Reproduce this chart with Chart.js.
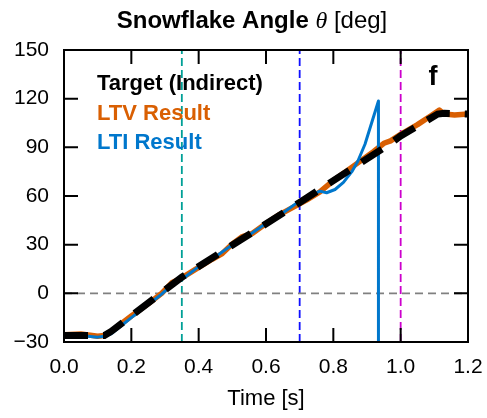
<!DOCTYPE html>
<html>
<head>
<meta charset="utf-8">
<script src="https://cdn.jsdelivr.net/npm/chart.js@4"></script>
<style>
  html, body { margin: 0; padding: 0; background: #fff; }
  canvas { display: block; }
</style>
</head>
<body>
<canvas id="graficoAngulo" width="487" height="418"></canvas>
<script>
// time axis [s] and snowflake angle [deg] for each series
const targetTime = [0, 0.12, 0.14, 0.35, 0.7, 0.96, 1.0, 1.11, 1.13, 1.2];
const targetAngle = [-26, -26, -23.5, 10, 56, 91, 97, 110.5, 111, 110.5];

const ltvTime = [0, 0.05, 0.10, 0.12, 0.15, 0.20, 0.25, 0.29, 0.32, 0.35, 0.40, 0.44, 0.47, 0.50, 0.53, 0.56,
  0.60, 0.64, 0.68, 0.72, 0.76, 0.80, 0.84, 0.88, 0.92, 0.95, 0.97, 1.00, 1.05, 1.09, 1.115, 1.13, 1.16, 1.2];
const ltvAngle = [-25.5, -25, -26.5, -26, -22, -14, -6.5, 0, 6.5, 9.5, 16, 21, 24.5, 30.5, 35, 37,
  43, 48.5, 53, 57.5, 62.5, 69.5, 75.5, 81.5, 87.5, 92.5, 94, 98, 104, 109.5, 113, 110.5, 110, 110.5];

const ltiTime = [0, 0.05, 0.10, 0.12, 0.14, 0.17, 0.20, 0.25, 0.29, 0.32, 0.35, 0.40, 0.45, 0.49, 0.52, 0.55,
  0.60, 0.65, 0.70, 0.73, 0.76, 0.78, 0.805, 0.83, 0.855, 0.873, 0.894, 0.934, 0.934];
const ltiAngle = [-26.5, -26, -27, -26.5, -25, -20, -15, -7, -0.5, 5, 8.5, 16.5, 22.5, 28.5, 32, 36,
  43, 49.5, 57, 60, 63, 62, 64, 68.4, 75, 81.6, 91.9, 118.6, -60];

// phase boundaries (dashed verticals)
const markerTimes = [0.35, 0.7, 1.0];
const markerColors = ['#00a096', '#1010ff', '#cc00cc'];

const xTicks = [0, 0.2, 0.4, 0.6, 0.8, 1.0, 1.2];
const yTicks = [-30, 0, 30, 60, 90, 120, 150];

const seriesNames = ['Target (Indirect)', 'LTV Result', 'LTI Result'];
const seriesColors = ['#000000', '#d95f02', '#0077cc'];

const SANS = '"Liberation Sans", Arial, Helvetica, sans-serif';

function toPoints(ts, ys) {
  return ts.map((t, i) => ({ x: t, y: ys[i] }));
}

const datasets = [
  {
    label: seriesNames[0],
    data: toPoints(targetTime, targetAngle),
    borderColor: seriesColors[0],
    borderWidth: 7,
    borderDash: [24, 15],
    borderCapStyle: 'butt',
    order: 0
  },
  {
    label: seriesNames[2],
    data: toPoints(ltiTime, ltiAngle),
    borderColor: seriesColors[2],
    borderWidth: 3,
    borderJoinStyle: 'round',
    order: 1
  },
  {
    label: seriesNames[1],
    data: toPoints(ltvTime, ltvAngle),
    borderColor: seriesColors[1],
    borderWidth: 5.5,
    borderJoinStyle: 'round',
    borderCapStyle: 'round',
    order: 2
  },
  {
    label: 'zero',
    data: toPoints([xTicks[0], xTicks[xTicks.length - 1]], [0, 0]),
    borderColor: '#808080',
    borderWidth: 1.8,
    borderDash: [8, 5],
    order: 3
  }
];

markerTimes.forEach((t, i) => {
  datasets.push({
    label: 'marker' + i,
    data: toPoints([t, t], [yTicks[0], yTicks[yTicks.length - 1]]),
    borderColor: markerColors[i],
    borderWidth: 1.8,
    borderDash: [8, 4],
    order: 3
  });
});

// frame with inward ticks on all four sides, plus title/legend/axis text
const decorPlugin = {
  id: 'decor',
  afterDatasetsDraw(chart) {
    const { ctx, chartArea: a, scales } = chart;
    ctx.save();
    ctx.strokeStyle = '#000';
    ctx.lineWidth = 2;
    ctx.strokeRect(a.left, a.top, a.right - a.left, a.bottom - a.top);
    const len = 14;
    ctx.beginPath();
    xTicks.forEach(v => {
      const px = scales.x.getPixelForValue(v);
      ctx.moveTo(px, a.bottom); ctx.lineTo(px, a.bottom - len);
      ctx.moveTo(px, a.top); ctx.lineTo(px, a.top + len);
    });
    yTicks.forEach(v => {
      const py = scales.y.getPixelForValue(v);
      ctx.moveTo(a.left, py); ctx.lineTo(a.left + len, py);
      ctx.moveTo(a.right, py); ctx.lineTo(a.right - len, py);
    });
    ctx.stroke();
    ctx.restore();
  },
  afterDraw(chart) {
    const { ctx, chartArea: a } = chart;
    ctx.save();
    ctx.fillStyle = '#000';
    ctx.textBaseline = 'alphabetic';

    // title with italic theta
    const parts = [
      { text: 'Snowflake Angle ', font: 'bold 24px ' + SANS },
      { text: '\u03b8', font: 'italic 24px "Liberation Serif", "DejaVu Serif", serif' },
      { text: ' [deg]', font: '24px ' + SANS }
    ];
    let total = 0;
    parts.forEach(p => { ctx.font = p.font; p.w = ctx.measureText(p.text).width; total += p.w; });
    let x = 252 - total / 2;
    ctx.textAlign = 'left';
    parts.forEach(p => { ctx.font = p.font; ctx.fillText(p.text, x, 28); x += p.w; });

    // legend as coloured text
    ctx.font = 'bold 22px ' + SANS;
    seriesNames.forEach((name, i) => {
      ctx.fillStyle = seriesColors[i];
      ctx.fillText(name, 97, 90 + i * 29.5);
    });

    // panel letter
    ctx.fillStyle = '#000';
    ctx.font = 'bold 27px ' + SANS;
    ctx.textAlign = 'center';
    ctx.fillText('f', 433, 85);

    // x axis title
    ctx.font = '22px ' + SANS;
    ctx.fillText('Time [s]', (a.left + a.right) / 2, 405);
    ctx.restore();
  }
};

const ctxAngulo = document.getElementById('graficoAngulo').getContext('2d');
new Chart(ctxAngulo, {
  type: 'line',
  data: { datasets: datasets },
  options: {
    responsive: false,
    animation: false,
    devicePixelRatio: 1,
    layout: { padding: { top: 50, right: 19, left: 0, bottom: 0 } },
    elements: { point: { radius: 0 }, line: { tension: 0 } },
    plugins: { legend: { display: false }, tooltip: { enabled: false } },
    scales: {
      x: {
        type: 'linear',
        min: xTicks[0],
        max: xTicks[xTicks.length - 1],
        afterBuildTicks: s => { s.ticks = xTicks.map(v => ({ value: v })); },
        afterFit: s => { s.height = 76; s.paddingLeft = 0; s.paddingRight = 0; },
        grid: { display: false, drawTicks: false },
        border: { display: false },
        ticks: {
          padding: 13,
          maxRotation: 0,
          color: '#000',
          font: { family: SANS, size: 21 },
          callback: v => v.toFixed(1)
        }
      },
      y: {
        type: 'linear',
        min: yTicks[0],
        max: yTicks[yTicks.length - 1],
        afterBuildTicks: s => { s.ticks = yTicks.map(v => ({ value: v })); },
        afterFit: s => { s.width = 64; s.paddingTop = 0; s.paddingBottom = 0; },
        grid: { display: false, drawTicks: false },
        border: { display: false },
        ticks: {
          padding: 15,
          color: '#000',
          font: { family: SANS, size: 21 },
          callback: v => String(v).replace('-', '\u2212')
        }
      }
    }
  },
  plugins: [decorPlugin]
});
</script>
</body>
</html>
